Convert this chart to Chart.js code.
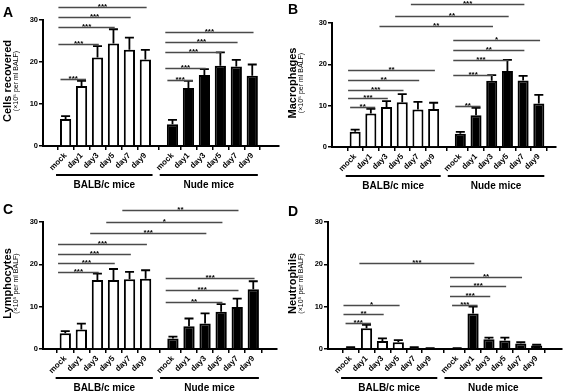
<!DOCTYPE html>
<html><head><meta charset="utf-8">
<script src="https://cdn.jsdelivr.net/npm/chart.js@4.4.1/dist/chart.umd.min.js"></script>
<style>
html,body{margin:0;padding:0;background:#fff;}
#wrap{position:relative;width:567px;height:391px;overflow:hidden;background:#fff;}
canvas{position:absolute;display:block;}
</style></head>
<body><div id="wrap">
<canvas id="cA" width="285" height="195" style="left:0;top:0"></canvas>
<canvas id="cB" width="282" height="195" style="left:285px;top:0"></canvas>
<canvas id="cC" width="285" height="196" style="left:0;top:195px"></canvas>
<canvas id="cD" width="282" height="196" style="left:285px;top:195px"></canvas>
</div>
<script>
// ---------- data ----------
const groups = ['BALB/c mice', 'Nude mice'];
const timepoints = ['mock', 'day1', 'day3', 'day5', 'day7', 'day9'];
const yTicks = [0, 10, 20, 30];
const unitLabel = '(\u00d710\u2075 per ml BALF)';

// A: cells recovered
const cellsBALB = [6.4, 14.3, 21.1, 24.4, 22.9, 20.6];
const cellsBALBsem = [0.7, 1.2, 2.7, 3.4, 2.9, 2.3];
const cellsNude = [5.2, 13.8, 16.9, 19.1, 18.9, 16.7];
const cellsNudeSem = [1.0, 1.7, 1.4, 3.2, 1.6, 2.7];
// [group1, index1, group2, index2, height, label]
const cellsSig = [
  [0,0,0,1,16.0,'***'],[0,0,0,2,24.4,'***'],[0,0,0,3,28.3,'***'],[0,0,0,4,30.6,'***'],[0,0,0,5,33.0,'***'],
  [1,0,1,1,15.7,'***'],[1,0,1,2,18.5,'***'],[1,0,1,3,22.5,'***'],[1,0,1,4,24.8,'***'],[1,0,1,5,27.2,'***']
];

// B: macrophages
const macroBALB = [3.7, 8.1, 9.7, 10.8, 9.1, 9.2];
const macroBALBsem = [0.5, 1.1, 1.4, 2.0, 1.8, 1.5];
const macroNude = [3.2, 7.7, 16.0, 18.4, 16.1, 10.5];
const macroNudeSem = [0.45, 1.8, 1.4, 2.7, 1.1, 2.1];
const macroSig = [
  [0,0,0,1,9.6,'**'],[0,0,0,2,11.9,'***'],[0,0,0,3,13.9,'***'],[0,0,0,4,16.2,'**'],[0,0,0,5,18.7,'**'],
  [1,0,1,1,9.9,'**'],[1,0,1,2,17.4,'***'],[1,0,1,3,21.1,'***'],[1,0,1,4,23.5,'**'],[1,0,1,5,25.8,'*'],
  [0,2,1,2,29.2,'**'],[0,3,1,3,31.6,'**'],[0,4,1,4,34.5,'***']
];

// C: lymphocytes
const lymphoBALB = [3.7, 4.6, 16.3, 16.3, 16.5, 16.6];
const lymphoBALBsem = [0.5, 1.4, 1.5, 2.6, 1.7, 2.0];
const lymphoNude = [2.5, 5.4, 6.0, 8.8, 9.9, 14.1];
const lymphoNudeSem = [0.4, 1.8, 2.4, 1.8, 2.0, 1.9];
const lymphoSig = [
  [0,0,0,2,18.2,'***'],[0,0,0,3,20.2,'***'],[0,0,0,4,22.5,'***'],[0,0,0,5,24.7,'***'],
  [0,2,1,2,27.4,'***'],[0,3,1,3,30.0,'*'],[0,4,1,4,32.8,'**'],
  [1,0,1,3,11.2,'**'],[1,0,1,4,13.9,'***'],[1,0,1,5,16.7,'***']
];

// D: neutrophils
const neutroBALB = [0.3, 4.9, 1.9, 1.6, 0.3, 0.15];
const neutroBALBsem = [0.15, 0.8, 0.6, 0.5, 0.15, 0.05];
const neutroNude = [0.15, 8.4, 2.3, 2.0, 1.3, 0.8];
const neutroNudeSem = [0.05, 1.6, 0.4, 0.7, 0.3, 0.2];
const neutroSig = [
  [0,0,0,1,6.1,'***'],[0,0,0,2,8.2,'**'],[0,0,0,3,10.4,'*'],
  [0,1,1,1,20.4,'***'],
  [1,0,1,1,10.4,'***'],[1,0,1,2,12.5,'***'],[1,0,1,3,14.8,'***'],[1,0,1,4,17.1,'**']
];

// ---------- layout (pixels, per panel) ----------
const GROUP_OFFSET = 6.7;
const panels = [
  {id:'cA', letter:'A', letterY:17, title:'Cells recovered', balb:cellsBALB, balbSem:cellsBALBsem, nude:cellsNude, nudeSem:cellsNudeSem, sig:cellsSig,
   axisX:43, top:20, bottom:146, right:279, xmin:-0.8, xmax:12.76},
  {id:'cB', letter:'B', letterY:14, title:'Macrophages', balb:macroBALB, balbSem:macroBALBsem, nude:macroNude, nudeSem:macroNudeSem, sig:macroSig,
   axisX:47, top:23, bottom:147, right:271, xmin:-0.88, xmax:12.2},
  {id:'cC', letter:'C', letterY:19, title:'Lymphocytes', balb:lymphoBALB, balbSem:lymphoBALBsem, nude:lymphoNude, nudeSem:lymphoNudeSem, sig:lymphoSig,
   axisX:43, top:27, bottom:154, right:277, xmin:-0.78, xmax:12.57},
  {id:'cD', letter:'D', letterY:21, title:'Neutrophils', balb:neutroBALB, balbSem:neutroBALBsem, nude:neutroNude, nudeSem:neutroNudeSem, sig:neutroSig,
   axisX:43, top:27, bottom:154, right:277, xmin:-0.81, xmax:12.68}
];

const SANS = '"Liberation Sans", Arial, sans-serif';
const NARROW = '"Liberation Sans Narrow", "Arial Narrow", "Liberation Sans", sans-serif';

const overlay = {
  id: 'overlay',
  afterDraw(chart) {
    const p = chart.options.plugins.overlay.panel;
    const ctx = chart.ctx, xs = chart.scales.x, ys = chart.scales.y;
    const sp = xs.getPixelForValue(1) - xs.getPixelForValue(0);
    const pos = (g, i) => xs.getPixelForValue(g * GROUP_OFFSET + i);
    ctx.save();
    // error bars
    chart.data.datasets.forEach((ds, d) => {
      const meta = chart.getDatasetMeta(d);
      meta.data.forEach((el, i) => {
        const yTop = ys.getPixelForValue(ds.data[i].y + ds.sem[i]);
        const yBar = el.y;
        ctx.strokeStyle = '#000';
        ctx.lineWidth = 1.8;
        ctx.beginPath();
        ctx.moveTo(el.x, yBar);
        ctx.lineTo(el.x, yTop);
        ctx.moveTo(el.x - 4.5, yTop);
        ctx.lineTo(el.x + 4.5, yTop);
        ctx.stroke();
      });
    });
    // significance brackets
    p.sig.forEach(s => {
      const [g1, i1, g2, i2, h, lab] = s;
      const adjacent = (g1 === g2 && i2 - i1 === 1);
      const x1 = pos(g1, i1) - (adjacent ? 0.32 : 0.45) * sp;
      const x2 = pos(g2, i2) + (adjacent ? 0.28 : 0.08) * sp;
      const y = Math.round(ys.getPixelForValue(h)) + 0.5;
      ctx.strokeStyle = '#4a4a4a';
      ctx.lineWidth = 1.6;
      ctx.beginPath();
      ctx.moveTo(x1, y);
      ctx.lineTo(x2, y);
      ctx.stroke();
      ctx.fillStyle = '#000';
      ctx.font = 'bold 8px ' + SANS;
      ctx.textAlign = 'center';
      ctx.textBaseline = 'alphabetic';
      ctx.fillText(lab, (x1 + x2) / 2, y + 1.5);
    });
    // group underlines and labels
    const ulY = p.bottom + 29;
    groups.forEach((name, g) => {
      const a = pos(g, 0) - (g === 0 ? 0.6 : 0.8) * sp;
      const b = pos(g, timepoints.length - 1) + (g === 0 ? 0.45 : 0.35) * sp;
      ctx.strokeStyle = '#000';
      ctx.lineWidth = 2;
      ctx.beginPath();
      ctx.moveTo(a, ulY);
      ctx.lineTo(b, ulY);
      ctx.stroke();
      ctx.fillStyle = '#000';
      ctx.font = 'bold 10px ' + SANS;
      ctx.textAlign = 'center';
      ctx.textBaseline = 'middle';
      ctx.fillText(name, (a + b) / 2, ulY + 10);
    });
    // y axis titles
    const cy = (ys.getPixelForValue(30) + ys.getPixelForValue(0)) / 2 - 2;
    ctx.save();
    ctx.translate(8, cy);
    ctx.rotate(-Math.PI / 2);
    ctx.fillStyle = '#000';
    ctx.textAlign = 'center';
    ctx.textBaseline = 'middle';
    ctx.font = 'bold 11px ' + NARROW;
    ctx.fillText(p.title, 0, 0);
    ctx.font = '7px ' + NARROW;
    ctx.fillText(unitLabel, 0, 8);
    ctx.restore();
    // panel letter
    ctx.fillStyle = '#000';
    ctx.font = 'bold 14px ' + SANS;
    ctx.textAlign = 'left';
    ctx.textBaseline = 'alphabetic';
    ctx.fillText(p.letter, 3, p.letterY);
    ctx.restore();
  }
};

panels.forEach(p => {
  const canvas = document.getElementById(p.id);
  const W = canvas.width, H = canvas.height;
  const positions = [];
  const labels = [];
  groups.forEach((g, gi) => timepoints.forEach((t, i) => { positions.push(gi * GROUP_OFFSET + i); labels.push(t); }));
  new Chart(canvas, {
    type: 'bar',
    data: {
      datasets: [
        {label: groups[0], data: p.balb.map((v, i) => ({x: i, y: v})), sem: p.balbSem,
         backgroundColor: '#fff', borderColor: '#000', borderWidth: 2},
        {label: groups[1], data: p.nude.map((v, i) => ({x: GROUP_OFFSET + i, y: v})), sem: p.nudeSem,
         backgroundColor: '#000', borderColor: '#000', borderWidth: 2}
      ]
    },
    options: {
      responsive: false,
      animation: false,
      devicePixelRatio: 1,
      grouped: false,
      datasets: {bar: {grouped: false, categoryPercentage: 0.8, barPercentage: 0.88}},
      layout: {padding: {top: p.top, right: W - p.right, left: 0, bottom: 0}},
      plugins: {legend: {display: false}, tooltip: {enabled: false}, overlay: {panel: p}},
      scales: {
        x: {
          type: 'linear', min: p.xmin, max: p.xmax, z: 1,
          afterBuildTicks: (s) => { s.ticks = positions.map(v => ({value: v})); },
          afterFit: (s) => { s.height = H - p.bottom; },
          ticks: {autoSkip: false, minRotation: 45, maxRotation: 45, padding: 1, color: '#000',
                  font: {family: SANS, weight: 'bold', size: 8},
                  callback: (v, i) => labels[i]},
          grid: {drawOnChartArea: false, drawTicks: true, tickLength: 4, color: '#000', lineWidth: 1.5},
          border: {display: true, color: '#000', width: 2}
        },
        y: {
          min: 0, max: 30,
          afterBuildTicks: (s) => { s.ticks = yTicks.map(v => ({value: v})); },
          afterFit: (s) => { s.width = p.axisX; },
          ticks: {padding: 1, color: '#000', font: {family: SANS, weight: 'bold', size: 7.5}},
          grid: {drawOnChartArea: false, drawTicks: true, tickLength: 4, color: '#000', lineWidth: 1.5},
          border: {display: true, color: '#000', width: 2}
        }
      }
    },
    plugins: [overlay]
  });
});
</script>
</body></html>
